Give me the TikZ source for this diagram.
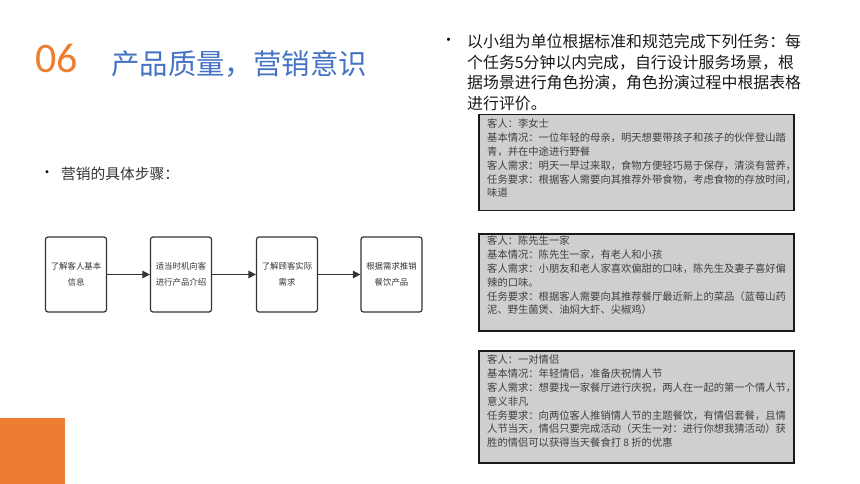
\documentclass[tikz,border=0pt]{standalone}
\usepackage{fontspec}
\setmainfont{Liberation Serif}
\newfontfamily\cjk{Noto Sans CJK SC}
\newfontfamily\numfont{Carlito}
\usetikzlibrary{arrows.meta,positioning}
\definecolor{titleblue}{HTML}{4472C4}
\definecolor{numorange}{HTML}{ED7D31}
\definecolor{casegray}{HTML}{D0CECE}
\definecolor{inkgray}{HTML}{333333}
\tikzset{
    flowbox/.style={draw=inkgray, line width=1.2pt, rounded corners=2.5pt, minimum width=61pt, minimum height=75pt, align=center, inner sep=0pt, font=\cjk\fontsize{8.4}{16}\selectfont, text=inkgray},
    flowarrow/.style={draw=inkgray, line width=1.3pt, -{Triangle[length=7.5pt,width=7.5pt]}},
    casebox/.style={draw=black!90, fill=casegray, line width=1.5pt, minimum width=315pt, anchor=north west, inner sep=0pt},
    casetext/.style={inner sep=0pt, align=left, font=\cjk\fontsize{10.3}{13.8}\selectfont, text=black!75},
}
\begin{document}
\begin{tikzpicture}[x=1pt,y=-1pt]
            \useasboundingbox (0,0) rectangle (860,484);
            \fill[numorange] (0,418) rectangle (65,484);
            \node[anchor=base west, inner sep=0pt, text=numorange, font=\numfont\fontsize{42}{42}\selectfont] (num) at (35,73) {06};
            \node[anchor=west, inner sep=0pt, text=titleblue, font=\cjk\fontsize{28.4}{30}\selectfont] (title) at (111,64) {产品质量，营销意识};
            \node[anchor=west, inner sep=0pt, font=\cjk\fontsize{14}{14}\selectfont] (dotA) at (40,174) {•};
            \node[anchor=west, inner sep=0pt, text=inkgray, font=\cjk\fontsize{14.75}{16}\selectfont] (steps) at (61,174) {营销的具体步骤：};
            \node[anchor=west, inner sep=0pt, font=\cjk\fontsize{15}{15}\selectfont] (dotB) at (441,42) {•};
            \node[anchor=north west, inner sep=0pt, align=left, text=black!90, font=\cjk\fontsize{15.9}{20.5}\selectfont] (task) at (467,34) {以小组为单位根据标准和规范完成下列任务：每\\个任务5分钟以内完成，自行设计服务场景，根\\据场景进行角色扮演，角色扮演过程中根据表格\\进行评价。};
            \foreach \u \n \t in {76/fa/{了解客人基本\\信息}, 181/fb/{适当时机向客\\进行产品介绍}, 287/fc/{了解顾客实际\\需求}, 391.5/fd/{根据需求推销\\餐饮产品}}
            \node[flowbox] (\n) at (\u,274.5) {\t};
            \foreach \a \b in {fa/fb, fb/fc, fc/fd}
            \draw[flowarrow] (\a) -- (\b);
            \node[casebox, minimum height=96pt] (caseA) at (478,114) {};
            \node[casetext, below right=5pt and 9pt of caseA.north west] (caseAtext) {客人：李女士\\基本情况：一位年轻的母亲，明天想要带孩子和孩子的伙伴登山踏\\青，并在中途进行野餐\\客人需求：明天一早过来取，食物方便轻巧易于保存，清淡有营养，\\任务要求：根据客人需要向其推荐外带食物，考虑食物的存放时间，\\味道};
            \node[casebox, minimum height=97pt] (caseB) at (478,233) {};
            \node[casetext, below right=3pt and 9pt of caseB.north west] (caseBtext) {客人：陈先生一家\\基本情况：陈先生一家，有老人和小孩\\客人需求：小朋友和老人家喜欢偏甜的口味，陈先生及妻子喜好偏\\辣的口味。\\任务要求：根据客人需要向其推荐餐厅最近新上的菜品（蓝莓山药\\泥、野生菌煲、油焖大虾、尖椒鸡）};
            \node[casebox, minimum height=112pt] (caseC) at (478,350) {};
            \node[casetext, below right=5pt and 9pt of caseC.north west] (caseCtext) {客人：一对情侣\\基本情况：年轻情侣，准备庆祝情人节\\客人需求：想要找一家餐厅进行庆祝，两人在一起的第一个情人节，\\意义非凡\\任务要求：向两位客人推销情人节的主题餐饮，有情侣套餐，且情\\人节当天，情侣只要完成活动（天生一对：进行你想我猜活动）获\\胜的情侣可以获得当天餐食打 8 折的优惠};
        \end{tikzpicture}
\end{document}
